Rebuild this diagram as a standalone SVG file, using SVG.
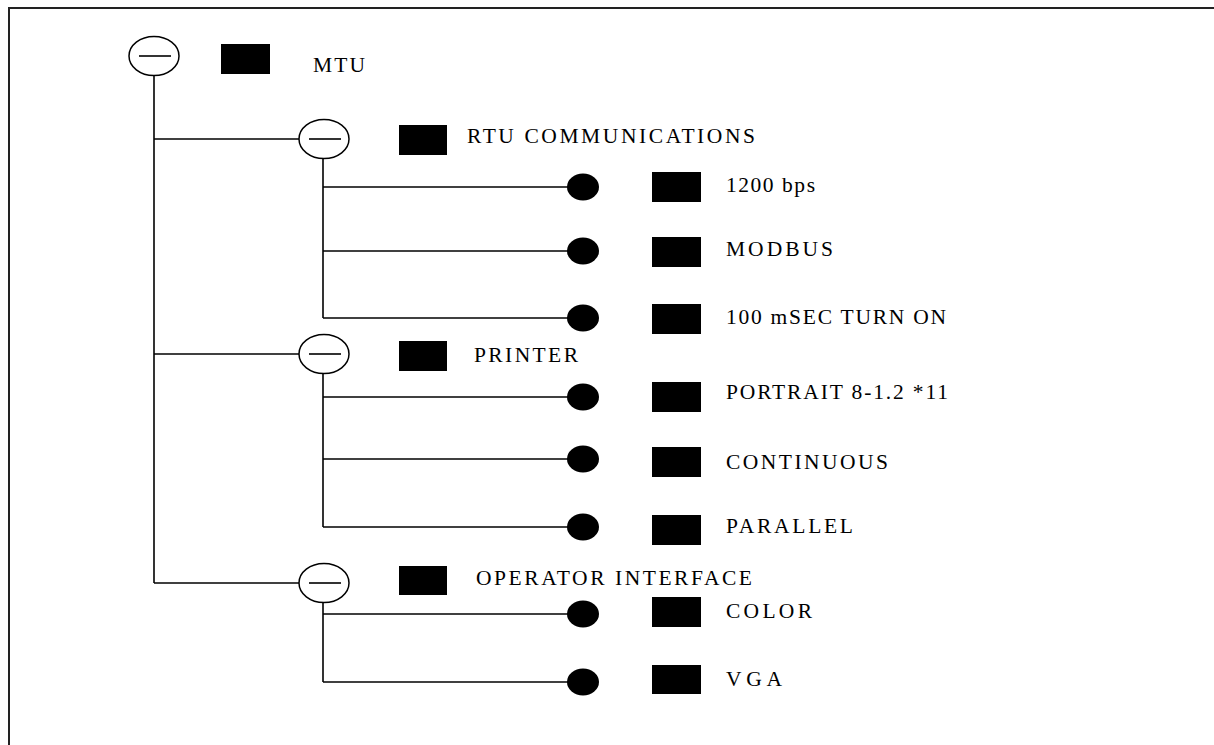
<svg xmlns="http://www.w3.org/2000/svg" width="1214" height="745" viewBox="0 0 1214 745">
  <style>
    .ln { stroke: #000; stroke-width: 1.6; fill: none; }
    .hub { fill: #fff; stroke: #000; stroke-width: 1.5; }
    .dot { fill: #000; }
    .box { fill: #000; }
    .lbl { font-family: "Liberation Serif", "Times New Roman", serif; font-size: 21.5px; fill: #000; }
  </style>
  <defs>
    <g id="hubSym">
      <ellipse class="hub" cx="0" cy="0" rx="25" ry="19.5"/>
      <line class="ln" x1="-15" y1="0" x2="17" y2="0"/>
    </g>
  </defs>
  <rect x="0" y="0" width="1214" height="745" fill="#fff"/>
  <path d="M9 745 V8 H1214" fill="none" stroke="#222" stroke-width="2"/>

  <g id="connectors">
    <line class="ln" x1="154" y1="76" x2="154" y2="583"/>
    <line class="ln" x1="154" y1="139" x2="299" y2="139"/>
    <line class="ln" x1="154" y1="354" x2="299" y2="354"/>
    <line class="ln" x1="154" y1="583" x2="299" y2="583"/>
    <line class="ln" x1="323" y1="159" x2="323" y2="318"/>
    <line class="ln" x1="323" y1="187" x2="568" y2="187"/>
    <line class="ln" x1="323" y1="251" x2="568" y2="251"/>
    <line class="ln" x1="323" y1="318" x2="568" y2="318"/>
    <line class="ln" x1="323" y1="374" x2="323" y2="527"/>
    <line class="ln" x1="323" y1="397" x2="568" y2="397"/>
    <line class="ln" x1="323" y1="459" x2="568" y2="459"/>
    <line class="ln" x1="323" y1="527" x2="568" y2="527"/>
    <line class="ln" x1="323" y1="603" x2="323" y2="682"/>
    <line class="ln" x1="323" y1="614" x2="568" y2="614"/>
    <line class="ln" x1="323" y1="682" x2="568" y2="682"/>
  </g>

  <g id="node-mtu">
    <use href="#hubSym" x="154" y="56"/>
    <rect class="box" x="221" y="44" width="49" height="30"/>
    <text class="lbl" x="313" y="72" textLength="52" lengthAdjust="spacing">MTU</text>
  </g>

  <g id="node-rtu">
    <use href="#hubSym" x="324" y="139"/>
    <rect class="box" x="399" y="125" width="48" height="30"/>
    <text class="lbl" x="467" y="143" textLength="288" lengthAdjust="spacing">RTU COMMUNICATIONS</text>
  </g>

  <g id="node-1200bps">
    <ellipse class="dot" cx="583" cy="187" rx="16" ry="13.5"/>
    <rect class="box" x="652" y="172" width="49" height="30"/>
    <text class="lbl" x="726" y="192" textLength="89" lengthAdjust="spacing">1200 bps</text>
  </g>

  <g id="node-modbus">
    <ellipse class="dot" cx="583" cy="251" rx="16" ry="13.5"/>
    <rect class="box" x="652" y="237" width="49" height="30"/>
    <text class="lbl" x="726" y="256" textLength="107" lengthAdjust="spacing">MODBUS</text>
  </g>

  <g id="node-100msec">
    <ellipse class="dot" cx="583" cy="318" rx="16" ry="13.5"/>
    <rect class="box" x="652" y="304" width="49" height="30"/>
    <text class="lbl" x="726" y="324" textLength="220" lengthAdjust="spacing">100 mSEC TURN ON</text>
  </g>

  <g id="node-printer">
    <use href="#hubSym" x="324" y="354"/>
    <rect class="box" x="399" y="341" width="48" height="30"/>
    <text class="lbl" x="474" y="362" textLength="104" lengthAdjust="spacing">PRINTER</text>
  </g>

  <g id="node-portrait">
    <ellipse class="dot" cx="583" cy="397" rx="16" ry="13.5"/>
    <rect class="box" x="652" y="382" width="49" height="30"/>
    <text class="lbl" x="726" y="399" textLength="222" lengthAdjust="spacing">PORTRAIT 8-1.2 *11</text>
  </g>

  <g id="node-continuous">
    <ellipse class="dot" cx="583" cy="459" rx="16" ry="13.5"/>
    <rect class="box" x="652" y="447" width="49" height="30"/>
    <text class="lbl" x="726" y="469" textLength="162" lengthAdjust="spacing">CONTINUOUS</text>
  </g>

  <g id="node-parallel">
    <ellipse class="dot" cx="583" cy="527" rx="16" ry="13.5"/>
    <rect class="box" x="652" y="515" width="49" height="30"/>
    <text class="lbl" x="726" y="533" textLength="127" lengthAdjust="spacing">PARALLEL</text>
  </g>

  <g id="node-operator">
    <use href="#hubSym" x="324" y="583"/>
    <rect class="box" x="399" y="566" width="48" height="29"/>
    <text class="lbl" x="476" y="585" textLength="276" lengthAdjust="spacing">OPERATOR INTERFACE</text>
  </g>

  <g id="node-color">
    <ellipse class="dot" cx="583" cy="614" rx="16" ry="13.5"/>
    <rect class="box" x="652" y="597" width="49" height="30"/>
    <text class="lbl" x="726" y="618" textLength="86" lengthAdjust="spacing">COLOR</text>
  </g>

  <g id="node-vga">
    <ellipse class="dot" cx="583" cy="682" rx="16" ry="13.5"/>
    <rect class="box" x="652" y="665" width="49" height="29"/>
    <text class="lbl" x="726" y="686" textLength="56" lengthAdjust="spacing">VGA</text>
  </g>
</svg>
